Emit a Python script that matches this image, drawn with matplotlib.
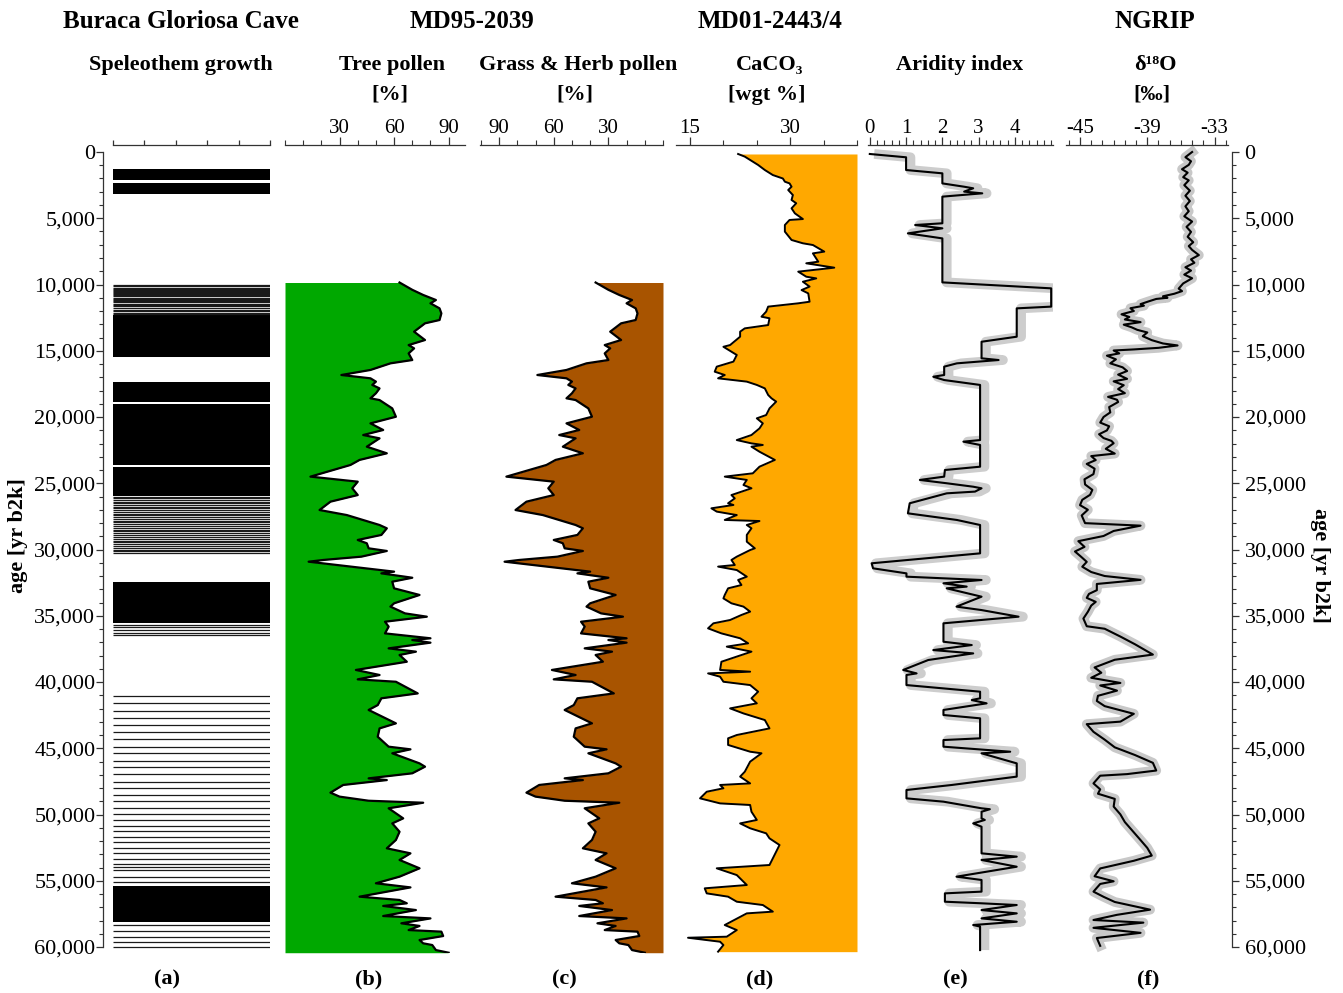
import numpy as np
import matplotlib.pyplot as plt
from matplotlib.ticker import MultipleLocator, FixedLocator, FuncFormatter

plt.rcParams['font.family'] = ['Liberation Serif', 'DejaVu Serif']
plt.rcParams['axes.unicode_minus'] = False

# ---- (a) Buraca Gloriosa speleothem growth phases [yr b2k] ----
growth_start = [1300, 2320, 12300, 17330, 19050, 23800, 32430, 55400]
growth_end = [2110, 3190, 15450, 18900, 23600, 25950, 35570, 58090]
growth_lines = [10050, 10150, 10250, 10330, 10420, 10480, 10560, 10640, 10720, 10800,
                10900, 10990, 11080, 11170, 11260, 11350, 11440, 11530, 11620,
                11790, 11900, 12010, 12120, 12220,
                26020, 26130, 26250, 26380, 26500, 26620, 26760, 26900, 27020, 27150,
                27290, 27420, 27540, 27680, 27820, 27950, 28090, 28230, 28360, 28500,
                28640, 28770, 28900, 29050, 29190, 29330, 29470, 29600, 29740, 29870,
                30000, 30130, 30260,
                35700, 35870, 36070, 36280, 36450,
                41060, 41610, 42160, 42690, 43240, 43800, 44330, 44880, 45380, 45940,
                46440, 46970, 47520, 48030, 48530, 48980, 49480, 49960, 50410, 50840,
                51240, 51670, 52100, 52500, 52930, 53360, 53740, 53940, 54190, 54690,
                55070,
                58340, 58770, 59220, 59600, 59970]

# ---- (b, c) MD95-2039 pollen [%] ----
pollen_age = [9850, 10400, 10790, 11170, 11420, 11800, 12180, 12680, 12930, 13560,
              14190, 14570, 14820, 15200, 15700, 15950, 16450, 16830, 17080, 17330,
              17580, 17840, 18210, 18590, 18720, 19350, 19980, 20480, 20980, 21360,
              21610, 22240, 22740, 23240, 23620, 24500, 24880, 25380, 25890, 26390,
              27020, 27400, 28150, 28400, 28900, 29280, 29530, 29910, 30110, 30540,
              30790, 30920, 31670, 31800, 32130, 32430, 32930, 33430, 34060, 34310,
              34820, 35070, 35450, 35820, 36330, 36700, 36830, 37030, 37460, 37710,
              37960, 38470, 39090, 39470, 39800, 39980, 40860, 41230, 41740, 42110,
              43120, 43500, 44130, 44880, 45080, 45380, 46140, 46390, 46890, 47270,
              47400, 47770, 48350, 48650, 48960, 49110, 49530, 50290, 50670, 51300,
              51920, 52550, 52930, 53430, 54060, 54690, 55190, 55500, 56200, 56450,
              56700, 56900, 57210, 57660, 57840, 58210, 58410, 58720, 58840, 59170,
              59470, 59720, 59850, 60230, 60430]
tree_pct = [63, 70, 76, 83, 80, 85, 86, 85, 77, 71,
            77, 68, 71, 68, 70, 58, 47, 31, 47, 50,
            48, 52, 50, 47, 52, 59, 61, 47, 54, 43,
            52, 45, 56, 41, 36, 14, 40, 37, 40, 25,
            19, 34, 52, 56, 53, 40, 45, 46, 56, 42,
            21, 13, 60, 53, 70, 59, 60, 74, 60, 58,
            66, 78, 55, 57, 55, 80, 70, 80, 57, 72,
            63, 67, 39, 52, 40, 61, 73, 53, 51, 46,
            61, 52, 51, 57, 69, 59, 74, 77, 70, 46,
            56, 32, 25, 30, 46, 76, 57, 65, 59, 63,
            61, 56, 69, 63, 74, 63, 50, 69, 41, 63,
            67, 54, 72, 54, 80, 64, 74, 68, 86, 87,
            74, 76, 81, 83, 90]
grass_pct = [37, 30, 24, 17, 20, 15, 14, 15, 23, 29,
             23, 32, 29, 32, 30, 42, 53, 69, 53, 50,
             52, 48, 50, 53, 48, 41, 39, 53, 46, 57,
             48, 55, 44, 59, 64, 86, 60, 63, 60, 75,
             81, 66, 48, 44, 47, 60, 55, 54, 44, 58,
             79, 87, 40, 47, 30, 41, 40, 26, 40, 42,
             34, 22, 45, 43, 45, 20, 30, 20, 43, 28,
             37, 33, 61, 48, 60, 39, 27, 47, 49, 54,
             39, 48, 49, 43, 31, 41, 26, 23, 30, 54,
             44, 68, 75, 70, 54, 24, 43, 35, 41, 37,
             39, 44, 31, 37, 26, 37, 50, 31, 59, 37,
             33, 46, 28, 46, 20, 36, 26, 32, 14, 13,
             26, 24, 19, 17, 10]

# ---- (d) MD01-2443/4 CaCO3 [wgt %] ----
caco3_age = [150, 350, 600, 980, 1360, 1740, 2000, 2240, 2370, 2620,
             2870, 3250, 3620, 3870, 4250, 4630, 5060, 5130, 5510, 6010,
             6640, 6890, 7020, 7520, 7650, 8280, 8400, 8730, 8910, 9030,
             9410, 9540, 9790, 10160, 10420, 10670, 11300, 11420, 11670, 12050,
             12430, 12550, 13060, 13310, 13560, 13940, 14570, 14700, 15320, 15820,
             16200, 16580, 16830, 17080, 17330, 17580, 17840, 18340, 18590, 18840,
             19350, 19850, 20100, 20480, 20860, 21360, 21740, 21990, 22110, 22240,
             22620, 23240, 23750, 24250, 24500, 24750, 25130, 25380, 25890, 26140,
             26510, 26640, 26890, 27140, 27400, 27770, 27850, 28150, 28400, 28900,
             29410, 29910, 30040, 30540, 30790, 31170, 31290, 31550, 32050, 32300,
             32680, 32930, 33430, 33690, 34060, 34310, 34690, 34940, 35320, 35570,
             35950, 36330, 36700, 37080, 37330, 37710, 38470, 39090, 39220, 39350,
             39600, 39980, 40230, 40730, 41230, 41610, 41990, 42370, 42870, 43500,
             44000, 44250, 44750, 45260, 45380, 46010, 46770, 47140, 47650, 47770,
             48020, 48280, 48780, 49160, 49280, 49790, 50410, 50670, 51040, 51420,
             51800, 52300, 53810, 54060, 54570, 55320, 55570, 55950, 56200, 56580,
             56830, 57330, 57460, 58340, 58720, 59220, 59300, 59600, 59850, 60350]
caco3_wgt = [22.2, 23.2, 24.0, 25.2, 26.2, 27.4, 28.9, 29.2, 29.9, 30.2,
             29.7, 30.4, 30.2, 30.9, 30.2, 30.7, 31.9, 29.9, 29.2, 29.2,
             30.2, 31.9, 33.4, 35.1, 33.4, 34.2, 32.4, 36.6, 33.4, 31.2,
             32.4, 33.9, 31.9, 32.9, 31.7, 32.7, 32.9, 31.2, 26.7, 26.4,
             25.7, 26.9, 26.7, 23.2, 22.5, 22.5, 21.0, 20.0, 22.0, 21.5,
             19.0, 18.7, 20.2, 19.2, 23.5, 25.0, 26.2, 26.7, 27.2, 27.9,
             26.9, 26.4, 25.0, 25.9, 25.4, 24.2, 22.0, 24.2, 25.9, 24.2,
             25.4, 27.7, 25.4, 24.4, 20.2, 23.5, 23.0, 24.2, 21.2, 21.7,
             20.7, 21.5, 18.2, 19.0, 22.0, 20.2, 25.4, 23.5, 24.2, 23.5,
             23.5, 24.7, 24.0, 22.0, 21.2, 21.7, 19.2, 22.0, 23.5, 22.2,
             22.7, 20.7, 20.2, 20.0, 21.2, 23.0, 24.0, 22.7, 21.0, 18.5,
             17.7, 19.7, 22.5, 23.7, 20.5, 24.2, 19.7, 19.5, 24.0, 17.7,
             19.5, 20.0, 24.0, 25.2, 24.2, 25.0, 21.0, 23.0, 26.2, 26.9,
             22.0, 20.7, 20.7, 24.0, 25.7, 24.0, 23.2, 22.5, 24.0, 19.5,
             20.0, 17.5, 16.5, 19.5, 24.0, 24.2, 25.0, 22.5, 24.0, 26.4,
             26.9, 28.4, 26.9, 19.0, 22.0, 23.5, 17.2, 17.5, 20.7, 22.0,
             25.9, 27.4, 23.5, 20.2, 22.0, 20.5, 14.7, 19.5, 20.0, 19.2]

# ---- (e) aridity index ----
arid_age = [150, 400, 1360, 1610, 2370, 2620, 2740, 2990, 3120, 3370,
            5380, 5510, 5760, 6140, 6520, 9840, 10290, 11670, 11800, 13940,
            14320, 15570, 15700, 15950, 16200, 16830, 16960, 17210, 17580, 21740,
            21860, 22110, 23750, 24000, 24500, 24750, 25000, 25260, 25380, 25630,
            25760, 26510, 27270, 27770, 28150, 30290, 31040, 31420, 31800, 32050,
            32300, 32550, 32800, 32930, 33560, 34310, 34570, 35070, 35570, 36960,
            37210, 37590, 37840, 38340, 39090, 39350, 39470, 40230, 40730, 41230,
            41360, 41610, 42110, 42490, 42740, 44250, 44380, 44880, 45260, 45380,
            46140, 47140, 47770, 48150, 48780, 49030, 49530, 49600, 49790, 50290,
            50410, 50670, 50920, 52930, 53180, 53430, 53940, 54690, 54940, 55820,
            55950, 56580, 56700, 56830, 57210, 57460, 57840, 58090, 58340, 58460,
            60230]
arid_idx = [0.0, 1.0, 1.0, 2.0, 2.0, 2.6, 2.85, 2.6, 3.1, 2.0,
            2.0, 1.25, 2.0, 1.05, 2.0, 2.0, 5.0, 5.0, 4.05, 4.05,
            3.08, 3.08, 3.55, 2.4, 2.05, 2.05, 1.75, 2.05, 3.04, 3.04,
            2.58, 3.04, 3.04, 2.07, 2.05, 1.38, 2.12, 2.85, 3.08, 2.9,
            2.12, 1.1, 1.05, 2.4, 3.04, 3.04, 0.05, 0.09, 1.01, 1.01,
            3.08, 2.03, 2.67, 2.12, 3.08, 2.39, 3.08, 4.1, 2.03, 2.03,
            2.81, 1.75, 2.85, 1.61, 0.92, 1.29, 1.01, 1.01, 3.04, 3.04,
            2.81, 3.22, 2.03, 2.03, 3.04, 3.04, 2.03, 2.03, 3.87, 3.08,
            4.05, 4.05, 2.26, 1.01, 1.01, 2.03, 3.08, 3.31, 3.08, 3.08,
            3.17, 2.85, 3.08, 3.08, 4.05, 3.08, 4.05, 2.39, 3.08, 3.08,
            2.07, 2.07, 3.08, 4.05, 3.08, 4.05, 3.08, 4.05, 2.85, 3.04,
            3.04]

# ---- (f) NGRIP d18O [permil] ----
ngrip_age = [0, 390, 700, 970, 1300, 1560, 1900, 2140, 2500, 2920,
             3300, 3700, 4100, 4470, 4850, 5250, 5650, 6030, 6400, 6810,
             7100, 7390, 7780, 8100, 8360, 8700, 8950, 9250, 9530, 9920,
             10310, 10500, 10700, 10890, 11000, 11090, 11280, 11480, 11600, 11790,
             12000, 12250, 12450, 12640, 12840, 13030, 13230, 13420, 13620, 13900,
             14200, 14450, 14600, 14780, 14900, 14980, 15200, 15370, 15650, 15950,
             16250, 16530, 16800, 17120, 17310, 17600, 17890, 18200, 18480, 18700,
             18870, 19250, 19650, 20000, 20420, 20700, 21010, 21300, 21590, 21800,
             21980, 22400, 22760, 22950, 23250, 23540, 23900, 24310, 24700, 25090,
             25500, 25870, 26250, 26650, 27000, 27430, 28010, 28200, 28600, 28980,
             29370, 29800, 30150, 30550, 30930, 31300, 31700, 32000, 32290, 32600,
             33070, 33350, 33650, 33950, 34230, 34700, 35210, 35790, 35980, 36570,
             37150, 37930, 38320, 38900, 39300, 39680, 40070, 40260, 40650, 41040,
             41430, 41820, 42400, 42990, 43180, 43760, 44350, 44930, 45510, 46100,
             46680, 46950, 47070, 47650, 48100, 48430, 48820, 49400, 49990, 50570,
             51150, 51930, 52520, 53100, 53490, 54070, 54660, 55040, 55240, 55820,
             56210, 56600, 57180, 57570, 57960, 58160, 58550, 58930, 59320, 59910]
ngrip_d18o = [-35.0, -35.6, -35.1, -35.3, -35.9, -35.4, -35.8, -35.3, -35.7, -35.2,
              -35.6, -35.2, -35.6, -35.3, -35.7, -35.0, -35.5, -35.1, -35.4, -34.9,
              -35.3, -35.0, -34.4, -35.1, -34.8, -35.6, -35.1, -35.7, -35.0, -35.8,
              -36.2, -35.9, -36.6, -37.6, -37.2, -38.2, -38.9, -39.6, -39.3, -40.5,
              -40.2, -41.3, -40.6, -41.0, -39.6, -41.1, -40.4, -39.9, -39.0, -39.4,
              -38.6, -37.6, -36.3, -38.0, -40.2, -42.0, -41.5, -42.6, -41.8, -42.3,
              -41.2, -40.8, -41.6, -40.8, -42.0, -41.1, -41.6, -41.0, -42.5, -41.7,
              -41.6, -42.4, -42.3, -42.9, -43.2, -42.4, -42.6, -43.3, -42.9, -42.2,
              -42.0, -42.7, -41.9, -44.0, -43.6, -44.4, -43.7, -43.8, -44.6, -44.55,
              -43.9, -44.1, -44.8, -45.0, -44.3, -44.85, -44.55, -39.6, -42.0, -42.9,
              -45.15, -44.6, -45.45, -44.9, -44.4, -44.8, -44.0, -42.8, -39.6, -43.5,
              -43.5, -44.2, -44.4, -43.6, -44.0, -44.3, -44.7, -44.4, -42.8, -41.4,
              -40.1, -38.5, -41.9, -43.7, -43.1, -44.0, -41.4, -43.2, -41.7, -43.4,
              -43.5, -42.8, -40.2, -41.4, -44.4, -43.8, -42.8, -41.9, -40.1, -38.5,
              -38.2, -40.8, -43.2, -43.8, -43.2, -43.4, -41.9, -42.0, -41.4, -41.0,
              -40.4, -39.6, -39.0, -38.6, -40.2, -43.2, -43.7, -42.0, -43.2, -43.8,
              -42.9, -41.9, -38.75, -41.7, -43.8, -39.35, -43.8, -39.6, -43.5, -43.2]

W, H = 1343, 993
AGE_TOP, AGE_BOT = -528, 60451

fig = plt.figure(figsize=(W / 100, H / 100), dpi=100)


def box(x0, x1, y0=145, y1=953):
    return [x0 / W, 1 - y1 / H, (x1 - x0) / W, (y1 - y0) / H]


def strip(x0, x1, xlim):
    ax = fig.add_axes(box(x0, x1))
    ax.set_xlim(*xlim)
    ax.set_ylim(AGE_BOT, AGE_TOP)
    for s in ['left', 'right', 'bottom']:
        ax.spines[s].set_visible(False)
    ax.spines['top'].set_linewidth(0.9)
    ax.spines['top'].set_color('#333333')
    ax.xaxis.tick_top()
    ax.yaxis.set_visible(False)
    ax.tick_params(axis='x', which='major', length=6, width=0.9, labelsize=15,
                   pad=-1, color='#333333')
    ax.tick_params(axis='x', which='minor', length=3.5, width=0.8, color='#333333')
    ax.patch.set_alpha(0)
    return ax


# (a) speleothem growth
ax_a = strip(113, 270, (0, 5))
ax_a.xaxis.set_major_locator(MultipleLocator(1))
ax_a.tick_params(axis='x', which='major', length=3.5, labeltop=False)
starts = np.array(growth_start)
ends = np.array(growth_end)
ax_a.barh((starts + ends) / 2, 5, height=ends - starts, left=0, color='black')
ax_a.hlines(growth_lines, 0, 5, color='#1a1a1a', lw=0.9)

# (b) tree pollen
ax_b = strip(285, 465, (0, 99))
ax_b.fill_betweenx(pollen_age, 0, tree_pct, color='#00a800', lw=0)
ax_b.plot(tree_pct, pollen_age, color='black', lw=1.6)
ax_b.xaxis.set_major_locator(FixedLocator([30, 60, 90]))
ax_b.xaxis.set_minor_locator(MultipleLocator(10))

# (c) grass & herb pollen
ax_c = strip(480, 663, (100.5, 0))
ax_c.fill_betweenx(pollen_age, grass_pct, 0, color='#a85400', lw=0)
ax_c.plot(grass_pct, pollen_age, color='black', lw=1.6)
ax_c.xaxis.set_major_locator(FixedLocator([90, 60, 30]))
ax_c.xaxis.set_minor_locator(MultipleLocator(10))

# (d) CaCO3
ax_d = strip(676, 857, (12.9, 40))
ax_d.fill_betweenx(caco3_age, caco3_wgt, 40, color='#ffa800', lw=0)
ax_d.plot(caco3_wgt, caco3_age, color='black', lw=1.4)
ax_d.xaxis.set_major_locator(FixedLocator([15, 30]))
ax_d.xaxis.set_minor_locator(MultipleLocator(5))

# (e) aridity index
ax_e = strip(868, 1053, (-0.05, 5.05))
arid = np.array(arid_idx)
ax_e.plot(arid + 0.12, arid_age, color='#cdcdcd', lw=7, solid_capstyle='butt')
ax_e.plot(arid, arid_age, color='black', lw=1.5)
ax_e.xaxis.set_major_locator(FixedLocator([0, 1, 2, 3, 4]))
ax_e.xaxis.set_minor_locator(MultipleLocator(0.2))

# (f) NGRIP
ax_f = strip(1066, 1228, (-46.25, -31.8))
ax_f.plot(ngrip_d18o, ngrip_age, color='#c8c8c8', lw=7)
ax_f.plot(ngrip_d18o, ngrip_age, color='black', lw=1.5)
ax_f.xaxis.set_major_locator(FixedLocator([-45, -39, -33]))
ax_f.xaxis.set_minor_locator(MultipleLocator(1))

# age axes
fmt = FuncFormatter(lambda v, p: f'{int(v):,}')
for x, side in [(103, 'left'), (1231, 'right')]:
    ax = fig.add_axes(box(x, x + 1))
    ax.set_ylim(AGE_BOT, AGE_TOP)
    ax.patch.set_alpha(0)
    ax.xaxis.set_visible(False)
    for s in ['left', 'right', 'top', 'bottom']:
        ax.spines[s].set_visible(s == side)
    ax.spines[side].set_bounds(0, 60000)
    ax.spines[side].set_color('#333333')
    ax.spines[side].set_linewidth(0.9)
    if side == 'right':
        ax.yaxis.tick_right()
    ax.yaxis.set_major_locator(MultipleLocator(5000))
    ax.yaxis.set_minor_locator(MultipleLocator(1000))
    ax.yaxis.set_major_formatter(fmt)
    ax.tick_params(axis='y', which='major', length=5, width=0.9, labelsize=16,
                   pad=0.5 if side == 'left' else 4, color='#333333')
    ax.tick_params(axis='y', which='minor', length=3, width=0.8, color='#333333')

fig.text(18 / W, 1 - 536 / H, 'age [yr b2k]', rotation=90, ha='center', va='center',
         fontsize=16, fontweight='bold')
fig.text(1320 / W, 1 - 565 / H, 'age [yr b2k]', rotation=270, ha='center', va='center',
         fontsize=16, fontweight='bold')

# headers
for x, t in [(181, 'Buraca Gloriosa Cave'), (472, 'MD95-2039'),
             (770, 'MD01-2443/4'), (1155, 'NGRIP')]:
    fig.text(x / W, 1 - 22 / H, t, ha='center', va='center', fontsize=18,
             fontweight='bold')
for x, t in [(181, 'Speleothem growth'), (392, 'Tree pollen'),
             (578, 'Grass & Herb pollen'), (770, 'CaCO₃'),
             (960, 'Aridity index'), (1155, 'δ¹⁸O')]:
    fig.text(x / W, 1 - 65 / H, t, ha='center', va='center', fontsize=16,
             fontweight='bold')
for x, t in [(390, '[%]'), (575, '[%]'), (767, '[wgt %]'), (1152, '[‰]')]:
    fig.text(x / W, 1 - 95 / H, t, ha='center', va='center', fontsize=16,
             fontweight='bold')
for x, t in [(167, '(a)'), (369, '(b)'), (564, '(c)'), (760, '(d)'),
             (955, '(e)'), (1148, '(f)')]:
    fig.text(x / W, 1 - 979 / H, t, ha='center', va='center', fontsize=16,
             fontweight='bold')

fig.savefig('out.png', dpi=100)
